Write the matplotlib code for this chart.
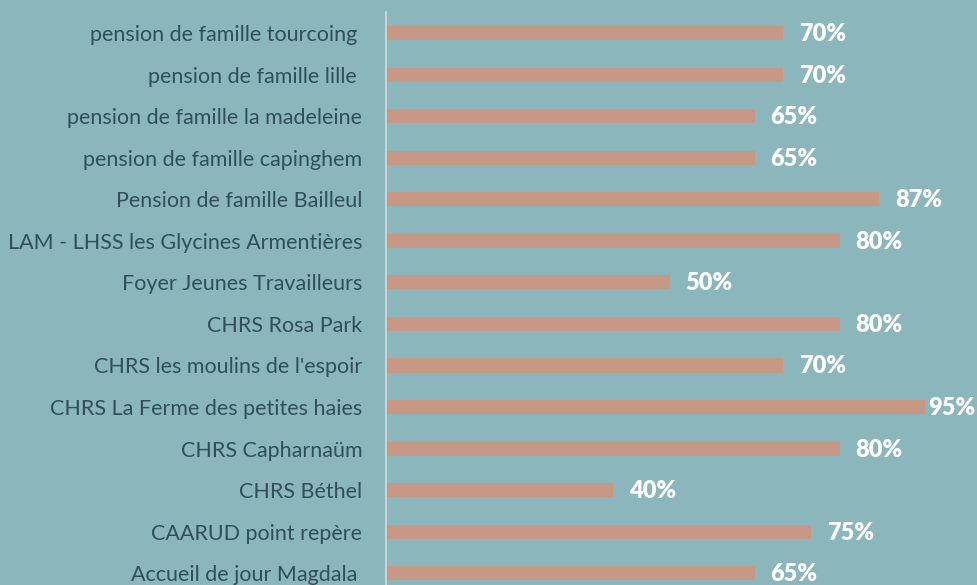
import matplotlib
matplotlib.use("Agg")
import matplotlib.pyplot as plt

categories = [
    "pension de famille tourcoing ",
    "pension de famille lille ",
    "pension de famille la madeleine",
    "pension de famille capinghem",
    "Pension de famille Bailleul",
    "LAM - LHSS les Glycines Armentières",
    "Foyer Jeunes Travailleurs",
    "CHRS Rosa Park",
    "CHRS les moulins de l'espoir",
    "CHRS La Ferme des petites haies",
    "CHRS Capharnaüm",
    "CHRS Béthel",
    "CAARUD point repère",
    "Accueil de jour Magdala ",
]
values = [70, 70, 65, 65, 87, 80, 50, 80, 70, 95, 80, 40, 75, 65]

bg = "#8BB7BC"
bar_color = "#C79886"
label_color = "#304F5B"

plt.rcParams['font.family'] = ['Lato', 'DejaVu Sans']

W, H = 978, 585
fig = plt.figure(figsize=(W / 100, H / 100), dpi=100, facecolor=bg)
ax = fig.add_axes([386 / W, (H - 594) / H, 567 / W, (594 - 12.3) / H])
ax.set_facecolor(bg)

n = len(categories)
ypos = list(range(n))
ax.barh(ypos, values, height=0.34, color=bar_color)
ax.set_ylim(n - 0.5, -0.5)
ax.set_xlim(0, 100)
ax.set_yticks(ypos)
ax.set_yticklabels(categories, fontsize=15.5, color=label_color)
ax.tick_params(axis='y', length=0, pad=17)
ax.xaxis.set_visible(False)
for s in ['top', 'right', 'bottom']:
    ax.spines[s].set_visible(False)
ax.spines['left'].set_color('#D9D9D9')
ax.spines['left'].set_linewidth(1.2)

texts = []
for y, v in zip(ypos, values):
    t = ax.annotate(f"{v}%", xy=(v, y), xytext=(16, -1), textcoords='offset pixels',
                    ha='left', va='center', color='white', fontweight='heavy',
                    fontsize=17, clip_on=False, annotation_clip=False)
    texts.append(t)

fig.canvas.draw()
renderer = fig.canvas.get_renderer()
for t in texts:
    bb = t.get_window_extent(renderer)
    if bb.x1 > W - 2:
        ox, oy = t.xyann
        t.xyann = (ox - (bb.x1 - (W - 3)), oy)

fig.savefig("out.png", dpi=100, facecolor=bg)
